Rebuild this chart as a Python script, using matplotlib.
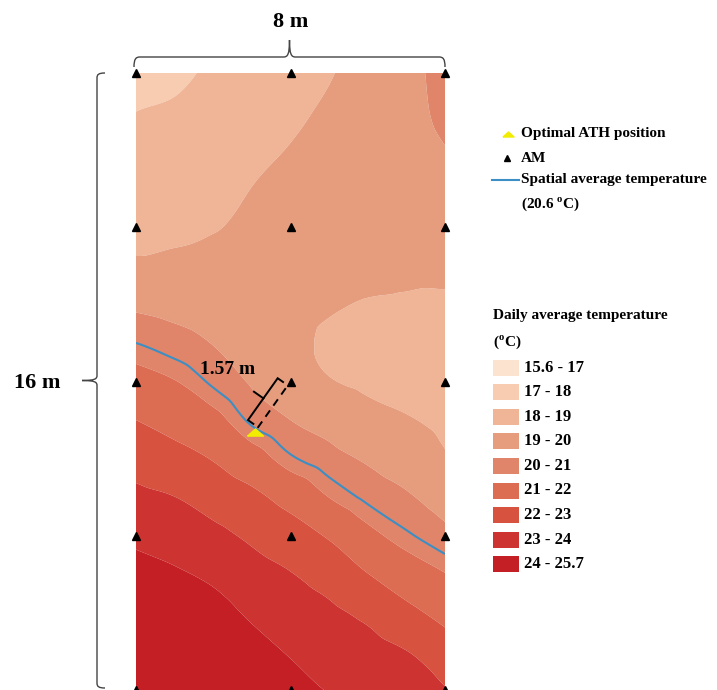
"""Daily average temperature map of the 8 m x 16 m floor with AM sensors and the optimal ATH position."""
import matplotlib

matplotlib.use("Agg")
import matplotlib.pyplot as plt
import matplotlib.tri as mtri
import numpy as np
from matplotlib.path import Path
from matplotlib.patches import PathPatch, Rectangle

plt.rcParams["font.family"] = ["Liberation Serif", "DejaVu Serif"]
plt.rcParams["font.weight"] = "bold"
plt.rcParams["mathtext.fontset"] = "custom"
plt.rcParams["mathtext.rm"] = "Liberation Serif"
plt.rcParams["mathtext.bf"] = "Liberation Serif:bold"

# ---- data ----------------------------------------------------------------
# grid positions (m); y is measured from the top edge of the floor
grid_x = [0, 1, 2, 3, 4, 5, 6, 7, 8]
grid_y = [0, 1, 2, 3, 4, 5, 6, 7, 8, 9, 10, 11, 12, 13, 14, 15, 16]

# estimated daily average temperature (degC), one row per metre from the top
temp = [
    [17.40, 17.75, 18.17, 18.43, 18.69, 18.95, 19.33, 19.74, 20.30],
    [18.00, 18.13, 18.33, 18.62, 18.87, 19.10, 19.40, 19.72, 20.20],
    [18.27, 18.37, 18.50, 18.82, 19.03, 19.20, 19.45, 19.62, 19.97],
    [18.52, 18.60, 18.70, 19.01, 19.20, 19.30, 19.45, 19.50, 19.70],
    [18.78, 18.84, 18.95, 19.19, 19.30, 19.35, 19.40, 19.40, 19.45],
    [19.11, 19.17, 19.28, 19.38, 19.35, 19.30, 19.25, 19.20, 19.15],
    [19.84, 19.71, 19.61, 19.56, 19.35, 19.10, 18.95, 18.90, 18.90],
    [20.60, 20.31, 19.97, 19.74, 19.30, 18.85, 18.70, 18.65, 18.60],
    [21.33, 21.03, 20.49, 19.92, 19.45, 19.05, 18.85, 18.70, 18.60],
    [22.00, 21.66, 21.26, 20.48, 20.00, 19.68, 19.31, 19.07, 18.80],
    [22.62, 22.32, 21.95, 21.38, 20.69, 20.27, 19.90, 19.58, 19.09],
    [23.22, 23.01, 22.61, 22.22, 21.66, 20.99, 20.47, 20.10, 19.64],
    [23.80, 23.57, 23.24, 22.84, 22.43, 21.91, 21.24, 20.70, 20.23],
    [24.35, 24.12, 23.82, 23.37, 23.04, 22.62, 22.02, 21.49, 21.03],
    [24.90, 24.65, 24.35, 23.86, 23.48, 23.18, 22.80, 22.23, 21.74],
    [25.35, 25.15, 24.85, 24.35, 23.92, 23.57, 23.35, 23.02, 22.42],
    [25.70, 25.60, 25.30, 24.80, 24.35, 23.96, 23.80, 23.70, 23.06],
]

levels = [15.6, 17, 18, 19, 20, 21, 22, 23, 24, 25.7]
band_labels = ["15.6 - 17", "17 - 18", "18 - 19", "19 - 20", "20 - 21",
               "21 - 22", "22 - 23", "23 - 24", "24 - 25.7"]
band_colors = ["#fce3d0", "#f7ccb1", "#f0b496", "#e59d7e", "#e0856a",
               "#dc6c52", "#d7523f", "#cd3330", "#c41f25"]
mean_temp = 20.6

am_x = [0, 4, 8]
am_y = [0, 4, 8, 12, 16]
ath_x, ath_y = 3.08, 9.30
ath_dist_label = "1.57 m"

BLUE = "#3c8fc4"
YELLOW = "#f2ec00"
FLAT_TRI = [(-1, -0.45), (1, -0.45), (0, 0.45), (-1, -0.45)]

# ---- layout (pixels) -------------------------------------------------------
W, H = 717, 690
MAP_L, MAP_R, MAP_T, MAP_B = 136, 445, 73, 690

fig = plt.figure(figsize=(W / 100, H / 100), dpi=100)
ax = fig.add_axes([MAP_L / W, (H - MAP_B) / H, (MAP_R - MAP_L) / W, (MAP_B - MAP_T) / H])

# smooth the coarse grid with matplotlib's own cubic tri refiner
gx, gy = np.meshgrid(grid_x, grid_y)
tri = mtri.Triangulation(gx.ravel(), gy.ravel())
z = np.ravel(temp)
interp = mtri.CubicTriInterpolator(tri, z, kind="geom")
tri_f, z_f = mtri.UniformTriRefiner(tri).refine_field(z, triinterpolator=interp, subdiv=3)
z_f = np.clip(z_f, levels[0], levels[-1])

ax.tricontourf(tri_f, z_f, levels=levels, colors=band_colors, antialiased=True)
ax.tricontour(tri_f, z_f, levels=[mean_temp], colors=BLUE, linewidths=1.5)
ax.set_xlim(0, 8)
ax.set_ylim(16, 0)
ax.axis("off")

# AM sensors
mx, my = np.meshgrid(am_x, am_y)
ax.plot(mx.ravel(), my.ravel(), ls="none", marker="^", color="black", ms=5.5, clip_on=False, zorder=5)

# distance from optimal ATH position to nearest AM
start = np.array([ath_x, ath_y])
end = np.array([am_x[1], am_y[2]], dtype=float)
u = (end - start) / np.linalg.norm(end - start)
n = np.array([u[1], -u[0]])  # points up-left
d0, d1 = start + u * 0.12, start + u * 1.45
ax.plot([d0[0], d1[0]], [d0[1], d1[1]], color="black", lw=1.4, ls=(0, (4, 3)), zorder=4)
b0, b1 = start + u * 0.14 + n * 0.32, start + u * 1.47 + n * 0.32
bracket = np.array([b0 - n * 0.17, b0, b1, b1 - n * 0.17])
ax.plot(bracket[:, 0], bracket[:, 1], color="black", lw=1.4, zorder=4, solid_joinstyle="miter")
bm = start + u * 0.83 + n * 0.32
ax.plot([bm[0], bm[0] + n[0] * 0.3], [bm[1], bm[1] + n[1] * 0.3], color="black", lw=1.4, zorder=4)
ax.text(2.36, 7.70, ath_dist_label, fontsize=14, fontweight="bold", ha="center", va="center", zorder=6)

ax.plot(ath_x, ath_y, ls="none", marker=FLAT_TRI, color=YELLOW, ms=11.5, clip_on=False, zorder=6)

# ---- decorations in pixel space -------------------------------------------
deco = fig.add_axes([0, 0, 1, 1])
deco.set_xlim(0, W)
deco.set_ylim(H, 0)
deco.axis("off")


def brace_verts(length, a, b, r):
    m = length / 2
    verts = [(0, 0), (0, a * 0.8), (r * 0.3, a), (r, a),
             (m - r, a),
             (m - r * 0.3, a), (m, a + b * 0.15), (m, a + b),
             (m, a + b * 0.15), (m + r * 0.3, a), (m + r, a),
             (length - r, a),
             (length - r * 0.3, a), (length, a * 0.8), (length, 0)]
    codes = [Path.MOVETO] + [Path.CURVE4] * 3 + [Path.LINETO] + [Path.CURVE4] * 6 \
        + [Path.LINETO] + [Path.CURVE4] * 3
    return np.array(verts, dtype=float), codes


# top brace (8 m)
v, c = brace_verts(MAP_R - MAP_L + 2, 10, 17, 6)
top = np.column_stack([MAP_L - 2 + v[:, 0], MAP_T - 6 - v[:, 1]])
deco.add_patch(PathPatch(Path(top, c), fill=False, ec="#444444", lw=1.0))
deco.text((MAP_L + MAP_R) / 2, 22, "8 m", fontsize=16, fontweight="bold", ha="center", va="center")

# left brace (16 m)
v, c = brace_verts(MAP_B - 2 - MAP_T, 8, 15, 5)
left = np.column_stack([105 - v[:, 1], MAP_T + v[:, 0]])
deco.add_patch(PathPatch(Path(left, c), fill=False, ec="#444444", lw=1.0))
deco.text(37, 383, "16 m", fontsize=16, fontweight="bold", ha="center", va="center")

# legend: symbols
deco.plot(508, 134, ls="none", marker=FLAT_TRI, color=YELLOW, ms=8)
deco.text(521, 134, "Optimal ATH position", fontsize=11, fontweight="bold", va="center")
deco.plot(507, 158, ls="none", marker="^", color="black", ms=5)
deco.text(521, 158, "AM", fontsize=11, fontweight="bold", va="center")
deco.plot([492, 519], [180, 180], color=BLUE, lw=1.5)
deco.text(521, 180, "Spatial average temperature", fontsize=11, fontweight="bold", va="center")
deco.text(521, 204, r"(20.6 $^{\mathbf{o}}$C)", fontsize=11, fontweight="bold", va="center")

# legend: temperature bands
deco.text(493, 315, "Daily average temperature", fontsize=11, fontweight="bold", va="center")
deco.text(493, 342, r"($^{\mathbf{o}}$C)", fontsize=11, fontweight="bold", va="center")
for i, (lab, col) in enumerate(zip(band_labels, band_colors)):
    yc = 367.5 + i * 24.6
    deco.add_patch(Rectangle((493, yc - 8), 26, 16, color=col, lw=0))
    deco.text(524, yc, lab, fontsize=12, fontweight="bold", va="center")

fig.savefig("out.png", dpi=100)
